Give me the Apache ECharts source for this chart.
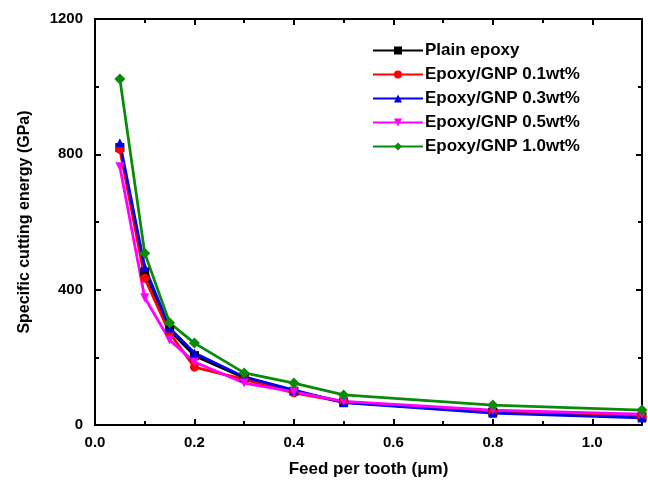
<!DOCTYPE html>
<html>
<head>
<meta charset="utf-8">
<script src="https://cdn.jsdelivr.net/npm/echarts@6/dist/echarts.min.js"></script>
<style>
  html, body { margin: 0; padding: 0; background: #fff; }
  #chart { width: 648px; height: 492px; }
</style>
</head>
<body>
<div id="chart"></div>
<script>
// feed per tooth (um)
var feed = [0.05, 0.1, 0.15, 0.2, 0.3, 0.4, 0.5, 0.8, 1.1];

// specific cutting energy (GPa)
var plainEpoxy = [820, 452, 280, 205, 140, 100, 68, 38, 24];
var gnp01 = [815, 434, 272, 171, 135, 95, 68, 38, 25];
var gnp03 = [834, 467, 287, 213, 142, 103, 66, 35, 21];
var gnp05 = [763, 376, 251, 186, 124, 98, 70, 44, 32];
var gnp10 = [1023, 508, 302, 242, 154, 124, 89, 59, 44];

var names = ['Plain epoxy', 'Epoxy/GNP 0.1wt%', 'Epoxy/GNP 0.3wt%', 'Epoxy/GNP 0.5wt%', 'Epoxy/GNP 1.0wt%'];
var values = [plainEpoxy, gnp01, gnp03, gnp05, gnp10];
var colors = ['#000000', '#ff0000', '#0000ee', '#ff00ff', '#0a8a0a'];
var symbols = ['rect', 'circle', 'triangle', 'triangle', 'diamond'];
var rotates = [0, 0, 0, 180, 0];

var font = 'Liberation Sans, Arial, sans-serif';

function pairs(ys) {
  return feed.map(function (x, i) { return [x, ys[i]]; });
}

var series = names.map(function (n, i) {
  return {
    name: n,
    type: 'line',
    data: pairs(values[i]),
    xAxisIndex: 0,
    yAxisIndex: 0,
    symbol: symbols[i],
    symbolRotate: rotates[i],
    symbolSize: i === 4 ? 11 : 9,
    lineStyle: { width: 2.8, color: colors[i] },
    itemStyle: { color: colors[i] },
    animation: false
  };
});
// empty series so the top and right frame axes get drawn
series.push({
  type: 'line', data: [], xAxisIndex: 1, yAxisIndex: 1, silent: true
});

function axisStyle(extra) {
  var a = {
    axisLine: { show: true, onZero: false, lineStyle: { color: '#000', width: 2 } },
    axisTick: { show: true, inside: true, length: 6, lineStyle: { color: '#000', width: 2 } },
    minorTick: { show: true, splitNumber: 2, length: 4, lineStyle: { color: '#000', width: 2 } },
    splitLine: { show: false },
    minorSplitLine: { show: false }
  };
  for (var k in extra) a[k] = extra[k];
  return a;
}

var chart = echarts.init(document.getElementById('chart'));
chart.setOption({
  animation: false,
  backgroundColor: '#fff',
  grid: { left: 95, right: 6, top: 19, bottom: 67, containLabel: false },
  legend: {
    orient: 'vertical',
    left: 367,
    top: 37,
    itemWidth: 50,
    itemHeight: 10,
    itemGap: 7,
    data: names,
    textStyle: { fontFamily: font, fontWeight: 'bold', fontSize: 17, color: '#000', padding: [0, 0, 0, -3] }
  },
  xAxis: [
    axisStyle({
      type: 'value',
      min: 0,
      max: 1.1,
      interval: 0.2,
      position: 'bottom',
      name: 'Feed per tooth (\u03bcm)',
      nameLocation: 'middle',
      nameGap: 36,
      nameTextStyle: { fontFamily: font, fontWeight: 'bold', fontSize: 17, color: '#000' },
      axisLabel: {
        margin: 10,
        fontFamily: font, fontWeight: 'bold', fontSize: 15, color: '#000',
        formatter: function (v) {
          return Math.abs(v * 5 - Math.round(v * 5)) < 1e-6 ? v.toFixed(1) : '';
        }
      }
    }),
    axisStyle({
      type: 'value',
      min: 0,
      max: 1.1,
      interval: 0.2,
      position: 'top',
      axisLabel: { show: false }
    })
  ],
  yAxis: [
    axisStyle({
      type: 'value',
      min: 0,
      max: 1200,
      interval: 400,
      position: 'left',
      name: 'Specific cutting energy (GPa)',
      nameLocation: 'middle',
      nameGap: 62,
      nameTextStyle: { fontFamily: font, fontWeight: 'bold', fontSize: 16, color: '#000' },
      axisLabel: {
        margin: 12, fontFamily: font, fontWeight: 'bold', fontSize: 15, color: '#000',
        formatter: function (v) { return String(v); }
      }
    }),
    axisStyle({
      type: 'value',
      min: 0,
      max: 1200,
      interval: 400,
      position: 'right',
      axisLabel: { show: false }
    })
  ],
  series: series
});
</script>
</body>
</html>
